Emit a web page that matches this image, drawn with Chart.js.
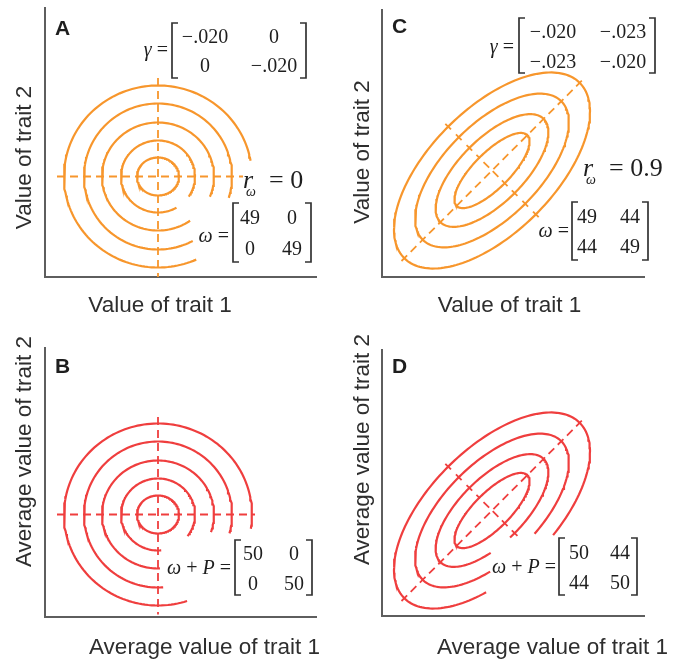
<!DOCTYPE html>
<html><head><meta charset="utf-8">
<script src="https://cdn.jsdelivr.net/npm/chart.js@4.4.1/dist/chart.umd.min.js"></script>
<style>
html,body{margin:0;padding:0;background:#fff;}
#wrap{position:relative;width:684px;height:660px;overflow:hidden;background:#fff;}
canvas{position:absolute;left:0;top:0;}
</style></head><body><div id="wrap">
<canvas id="cA" width="684" height="660"></canvas>
<canvas id="cC" width="684" height="660"></canvas>
<canvas id="cB" width="684" height="660"></canvas>
<canvas id="cD" width="684" height="660"></canvas>
</div>
<script>
// ---------------- data ----------------
const panelLetters = ['A', 'C', 'B', 'D'];
const xTitles = ['Value of trait 1', 'Value of trait 1', 'Average value of trait 1', 'Average value of trait 1'];
const yTitles = ['Value of trait 2', 'Value of trait 2', 'Average value of trait 2', 'Average value of trait 2'];
// panels A/B: concentric contours (semi-axes along trait 1 / trait 2)
const ringRx = [21, 37, 56, 74, 94];
const ringRy = [19, 36, 54, 73, 91];
// drawn angular range of each contour (degrees, counter-clockwise from trait-1 axis)
const arcsA = [[0, 360], [-34, 300], [-22, 305], [-17, 298], [10, 294]];
const arcsB = [[0, 360], [-37, 275], [-19, 272], [-15, 274], [-9, 288]];
// panels C/D: correlated contours (semi-major / semi-minor)
const ellMajor = [50, 73, 98, 124];
const ellMinor = [18, 32, 47, 62];
const ellAngle = 45;
const arcsC = [[0, 360], [0, 360], [0, 360], [0, 360]];
const arcsD = [[0, 360], [265, 605], [278, 603], [282, 600]];
// matrices and correlation labels
const gammaA = [['\u2212.020', '0'], ['0', '\u2212.020']];
const gammaC = [['\u2212.020', '\u2212.023'], ['\u2212.023', '\u2212.020']];
const omegaA = [['49', '0'], ['0', '49']];
const omegaC = [['49', '44'], ['44', '49']];
const omegaPB = [['50', '0'], ['0', '50']];
const omegaPD = [['50', '44'], ['44', '50']];
const rOmega = ['0', '0.9'];

// ---------------- helpers ----------------
const ORANGE = '#F7962C';
const RED = '#EF3E3E';
const AXIS = '#5e5e5e';
const INK = '#1e1e1e';
const SANS = '"Liberation Sans", Arial, sans-serif';
const SERIF = '"Liberation Serif", "Times New Roman", serif';
const LW = 2.2, DLW = 1.8;

function contour(rx, ry, rotDeg, a0, a1) {
  const pts = [];
  const r = rotDeg * Math.PI / 180;
  const n = Math.max(2, Math.ceil(Math.abs(a1 - a0) / 2));
  for (let i = 0; i <= n; i++) {
    const t = (a0 + (a1 - a0) * i / n) * Math.PI / 180;
    const ex = rx * Math.cos(t), ey = ry * Math.sin(t);
    pts.push({x: ex * Math.cos(r) - ey * Math.sin(r), y: ex * Math.sin(r) + ey * Math.cos(r)});
  }
  return pts;
}
function seg(angDeg, d0, d1) {
  const r = angDeg * Math.PI / 180;
  return [{x: d0 * Math.cos(r), y: d0 * Math.sin(r)}, {x: d1 * Math.cos(r), y: d1 * Math.sin(r)}];
}
function lineDs(data, color, dash, width) {
  return {data, showLine: true, borderColor: color, borderWidth: width || LW, borderDash: dash || [],
          pointRadius: 0, fill: false, tension: 0, borderCapStyle: 'butt'};
}
function rich(ctx, parts, x, y, align) {
  let total = 0;
  parts.forEach(p => { ctx.font = p[1]; total += ctx.measureText(p[0]).width; });
  let cx = align === 'right' ? x - total : x;
  ctx.textAlign = 'left';
  parts.forEach(p => { ctx.font = p[1]; ctx.fillText(p[0], cx, y); cx += ctx.measureText(p[0]).width; });
}
function matrix(ctx, cells, m) {
  ctx.strokeStyle = '#333'; ctx.lineWidth = 1.7;
  const s = 6;
  ctx.beginPath();
  ctx.moveTo(m.l + s, m.t); ctx.lineTo(m.l, m.t); ctx.lineTo(m.l, m.b); ctx.lineTo(m.l + s, m.b);
  ctx.moveTo(m.r - s, m.t); ctx.lineTo(m.r, m.t); ctx.lineTo(m.r, m.b); ctx.lineTo(m.r - s, m.b);
  ctx.stroke();
  ctx.font = m.font; ctx.fillStyle = INK; ctx.textAlign = 'center'; ctx.textBaseline = 'alphabetic';
  for (let i = 0; i < 2; i++) for (let j = 0; j < 2; j++) ctx.fillText(cells[i][j], m.cols[j], m.rows[i]);
}

const textPlugin = {
  id: 'panelText',
  afterDraw(chart) {
    const o = chart.options.plugins.panelText;
    const ctx = chart.ctx;
    ctx.save();
    ctx.fillStyle = INK;
    ctx.textBaseline = 'alphabetic';
    ctx.font = 'bold 21px ' + SANS; ctx.textAlign = 'left';
    ctx.fillText(o.letter, o.letterPos[0], o.letterPos[1]);
    ctx.fillStyle = '#2e2e2e';
    ctx.font = '22.5px ' + SANS; ctx.textBaseline = 'middle';
    ctx.textAlign = o.xTitleAlign; ctx.fillText(o.xTitle, o.xTitlePos[0], o.xTitlePos[1]);
    ctx.save(); ctx.translate(o.yTitlePos[0], o.yTitlePos[1]); ctx.rotate(-Math.PI / 2);
    ctx.textAlign = o.yTitleAlign; ctx.fillText(o.yTitle, 0, 0); ctx.restore();
    ctx.fillStyle = INK; ctx.textBaseline = 'alphabetic';
    o.mats.forEach(mt => {
      rich(ctx, mt.label, mt.labelPos[0], mt.labelPos[1], 'right');
      matrix(ctx, mt.cells, mt.box);
    });
    if (o.r) {
      ctx.font = 'italic 26px ' + SERIF; ctx.textAlign = 'left';
      ctx.fillText('r', o.r.x, o.r.y);
      ctx.font = 'italic 14px ' + SERIF; ctx.fillText('\u03C9', o.r.x + 3, o.r.y + 8);
      ctx.font = '26px ' + SERIF; ctx.fillText('= ' + o.r.val, o.r.x + 26, o.r.y);
    }
    ctx.restore();
  }
};

function makeChart(id, area, center, datasets, text) {
  const [L, T, R, B] = area;
  const [cx, cy] = center;
  const axisOpts = {type: 'linear', ticks: {display: false}, grid: {display: false, drawTicks: false},
                    border: {display: true, color: AXIS, width: 2}, title: {display: false}};
  return new Chart(document.getElementById(id), {
    type: 'scatter',
    data: {datasets},
    options: {
      responsive: false, animation: false, devicePixelRatio: 1,
      layout: {padding: {left: L, top: T, right: 684 - R, bottom: 660 - B}},
      plugins: {legend: {display: false}, tooltip: {enabled: false}, panelText: text},
      scales: {
        x: Object.assign({}, axisOpts, {min: L - cx, max: R - cx}),
        y: Object.assign({}, axisOpts, {min: -(B - cy), max: cy - T})
      }
    },
    plugins: [textPlugin]
  });
}

const DASH = [8, 5];
const gFont = 'italic 20px ' + SERIF, eqFont = '20px ' + SERIF, numFont = '20px ' + SERIF;

// ---------- Panel A ----------
{
  const ds = arcsA.map((a, i) => lineDs(contour(ringRx[i], ringRy[i], 0, a[0], a[1]), ORANGE));
  ds.push(lineDs([{x: -101, y: 0}, {x: 85, y: 0}], ORANGE, DASH, DLW));
  ds.push(lineDs([{x: 0, y: 98.5}, {x: 0, y: -100.5}], ORANGE, DASH, DLW));
  makeChart('cA', [45, 8, 316, 277], [158, 176.5], ds, {
    letter: panelLetters[0], letterPos: [55, 35],
    xTitle: xTitles[0], xTitlePos: [160, 306], xTitleAlign: 'center',
    yTitle: yTitles[0], yTitlePos: [25, 157.5], yTitleAlign: 'center',
    mats: [
      {label: [['\u03B3', gFont], [' =', eqFont]], labelPos: [168, 56], cells: gammaA,
       box: {l: 172, r: 306, t: 23, b: 78, cols: [205, 274], rows: [43, 72], font: numFont}},
      {label: [['\u03C9', gFont], [' =', eqFont]], labelPos: [229, 242], cells: omegaA,
       box: {l: 233, r: 311, t: 203, b: 262, cols: [250, 292], rows: [224, 255], font: numFont}}
    ],
    r: {x: 243, y: 188, val: rOmega[0]}
  });
}
// ---------- Panel C ----------
{
  const ds = arcsC.map((a, i) => lineDs(contour(ellMajor[i], ellMinor[i], ellAngle, a[0], a[1]), ORANGE));
  ds.push(lineDs(seg(ellAngle, -128, 128), ORANGE, DASH, DLW));
  ds.push(lineDs(seg(ellAngle + 90, -22, 22), ORANGE, DASH, DLW));
  [1, 2, 3].forEach(i => {
    ds.push(lineDs(seg(ellAngle + 90, ellMinor[i] - 4, ellMinor[i] + 4), ORANGE, [], DLW));
    ds.push(lineDs(seg(ellAngle + 90, -ellMinor[i] - 4, -ellMinor[i] + 4), ORANGE, [], DLW));
  });
  makeChart('cC', [382, 10, 644, 277], [492, 170.5], ds, {
    letter: panelLetters[1], letterPos: [392, 33],
    xTitle: xTitles[1], xTitlePos: [509.5, 306], xTitleAlign: 'center',
    yTitle: yTitles[1], yTitlePos: [363, 152], yTitleAlign: 'center',
    mats: [
      {label: [['\u03B3', gFont], [' =', eqFont]], labelPos: [514, 53], cells: gammaC,
       box: {l: 519, r: 655, t: 18, b: 73, cols: [553, 623], rows: [38, 68], font: numFont}},
      {label: [['\u03C9', gFont], [' =', eqFont]], labelPos: [569, 237], cells: omegaC,
       box: {l: 572, r: 648, t: 202, b: 260, cols: [587, 630], rows: [223, 253], font: numFont}}
    ],
    r: {x: 583, y: 176, val: rOmega[1]}
  });
}
// ---------- Panel B ----------
{
  const ds = arcsB.map((a, i) => lineDs(contour(ringRx[i], ringRy[i], 0, a[0], a[1]), RED));
  ds.push(lineDs([{x: -101, y: 0}, {x: 97, y: 0}], RED, DASH, DLW));
  ds.push(lineDs([{x: 0, y: 97.5}, {x: 0, y: -100}], RED, DASH, DLW));
  makeChart('cB', [45, 348, 316, 617], [158, 514.5], ds, {
    letter: panelLetters[2], letterPos: [55, 373],
    xTitle: xTitles[2], xTitlePos: [204.5, 648], xTitleAlign: 'center',
    yTitle: yTitles[2], yTitlePos: [25, 567], yTitleAlign: 'left',
    mats: [
      {label: [['\u03C9', gFont], [' + ', eqFont], ['P', gFont], [' =', eqFont]], labelPos: [231, 574], cells: omegaPB,
       box: {l: 235, r: 312, t: 540, b: 595, cols: [253, 294], rows: [560, 590], font: numFont}}
    ],
    r: null
  });
}
// ---------- Panel D ----------
{
  const ds = arcsD.map((a, i) => lineDs(contour(ellMajor[i], ellMinor[i], ellAngle, a[0], a[1]), RED));
  ds.push(lineDs(seg(ellAngle, -128, 128), RED, DASH, DLW));
  ds.push(lineDs(seg(ellAngle + 90, -22, 22), RED, DASH, DLW));
  [1, 2, 3].forEach(i => {
    ds.push(lineDs(seg(ellAngle + 90, ellMinor[i] - 4, ellMinor[i] + 4), RED, [], DLW));
  });
  ds.push(lineDs(seg(ellAngle + 90, -ellMinor[1] - 4, -ellMinor[1] + 4), RED, [], DLW));
  makeChart('cD', [382, 350, 644, 616], [492, 510.5], ds, {
    letter: panelLetters[3], letterPos: [392, 373],
    xTitle: xTitles[3], xTitlePos: [437, 648], xTitleAlign: 'left',
    yTitle: yTitles[3], yTitlePos: [363, 565], yTitleAlign: 'left',
    mats: [
      {label: [['\u03C9', gFont], [' + ', eqFont], ['P', gFont], [' =', eqFont]], labelPos: [556, 573], cells: omegaPD,
       box: {l: 559, r: 637, t: 538, b: 595, cols: [579, 620], rows: [559, 589], font: numFont}}
    ],
    r: null
  });
}
</script>
</body></html>
